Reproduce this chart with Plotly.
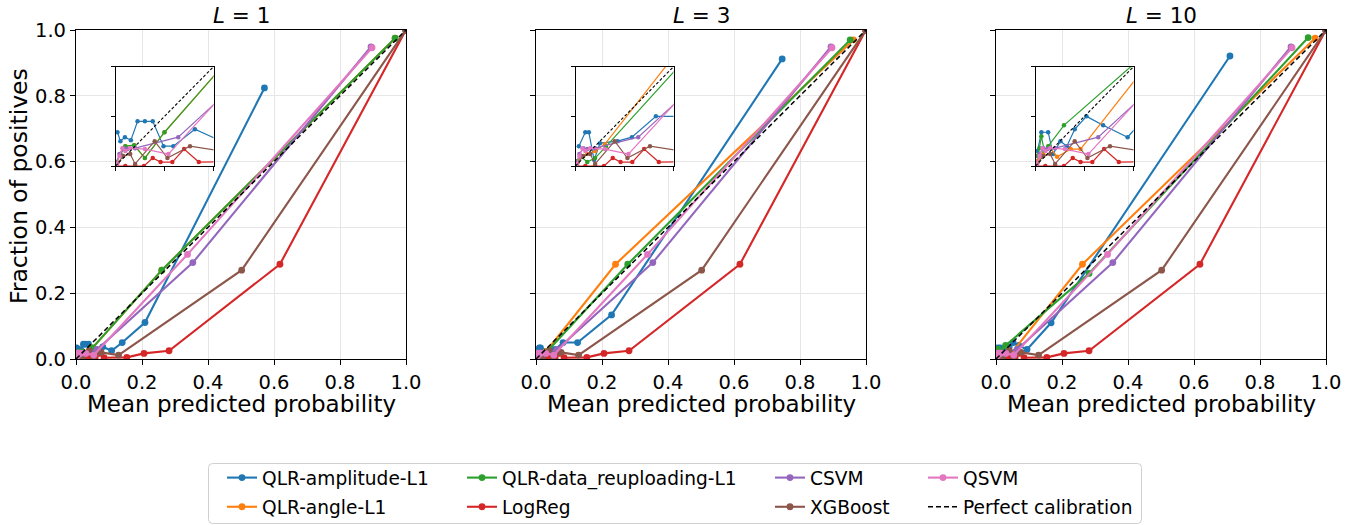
import plotly.graph_objects as go

# ---------------- data ----------------
panel_titles = ["<i>L</i> = 1", "<i>L</i> = 3", "<i>L</i> = 10"]
tick_vals = [0.0, 0.2, 0.4, 0.6, 0.8, 1.0]
tick_text = ["0.0", "0.2", "0.4", "0.6", "0.8", "1.0"]
inset_ticks = [0.0, 0.05, 0.1]

series_names = ["QLR-amplitude-L1", "QLR-angle-L1", "QLR-data_reuploading-L1",
                "LogReg", "CSVM", "XGBoost", "QSVM"]
series_colors = ["#1f77b4", "#ff7f0e", "#2ca02c", "#d62728", "#9467bd", "#8c564b", "#e377c2"]

# classical models (same in every panel)
logreg_x = [0.001, 0.010, 0.020, 0.029, 0.038, 0.046, 0.058, 0.070, 0.085, 0.154, 0.206, 0.282, 0.618, 0.999]
logreg_y = [0.000, 0.000, 0.000, 0.000, 0.008, 0.004, 0.004, 0.017, 0.004, 0.005, 0.017, 0.025, 0.288, 0.999]
csvm_x = [0.001, 0.004, 0.008, 0.012, 0.020, 0.064, 0.354, 0.894]
csvm_y = [0.003, 0.012, 0.018, 0.017, 0.018, 0.029, 0.293, 0.949]
xgb_x = [0.002, 0.008, 0.015, 0.020, 0.040, 0.053, 0.076, 0.129, 0.502, 0.999]
xgb_y = [0.003, 0.010, 0.012, 0.002, 0.025, 0.008, 0.020, 0.012, 0.270, 0.999]
qsvm_x = [0.001, 0.004, 0.007, 0.010, 0.015, 0.030, 0.054, 0.338, 0.897]
qsvm_y = [0.002, 0.010, 0.018, 0.015, 0.018, 0.017, 0.012, 0.318, 0.946]

# quantum models, L = 1
amp_L1_x = [0.002, 0.005, 0.0096, 0.0157, 0.0225, 0.030, 0.038, 0.049, 0.059, 0.081, 0.108, 0.140, 0.209, 0.571]
amp_L1_y = [0.034, 0.025, 0.029, 0.026, 0.045, 0.045, 0.045, 0.020, 0.020, 0.037, 0.025, 0.050, 0.111, 0.824]
ang_L1_x = [0.001, 0.005, 0.010, 0.019, 0.030, 0.050, 0.260, 0.967]
ang_L1_y = [0.004, 0.012, 0.020, 0.021, 0.008, 0.034, 0.270, 0.975]
reup_L1_x = [0.001, 0.005, 0.010, 0.019, 0.030, 0.050, 0.260, 0.967]
reup_L1_y = [0.004, 0.012, 0.020, 0.021, 0.008, 0.034, 0.270, 0.975]

# L = 3
amp_L3_x = [0.0034, 0.010, 0.0136, 0.019, 0.025, 0.043, 0.0575, 0.082, 0.126, 0.229, 0.746]
amp_L3_y = [0.020, 0.034, 0.034, 0.006, 0.023, 0.025, 0.029, 0.050, 0.050, 0.134, 0.912]
ang_L3_x = [0.002, 0.006, 0.012, 0.020, 0.030, 0.241, 0.962]
ang_L3_y = [0.004, 0.010, 0.012, 0.015, 0.022, 0.288, 0.970]
reup_L3_x = [0.002, 0.005, 0.012, 0.020, 0.031, 0.278, 0.952]
reup_L3_y = [0.005, 0.010, 0.004, 0.008, 0.0195, 0.288, 0.970]

# L = 10
amp_L10_x = [0.002, 0.006, 0.0129, 0.018, 0.0254, 0.032, 0.040, 0.052, 0.069, 0.094, 0.167, 0.709]
amp_L10_y = [0.015, 0.034, 0.034, 0.012, 0.025, 0.020, 0.037, 0.050, 0.041, 0.029, 0.110, 0.921]
ang_L10_x = [0.002, 0.008, 0.0136, 0.022, 0.036, 0.046, 0.262, 0.967]
ang_L10_y = [0.005, 0.012, 0.020, 0.0094, 0.017, 0.017, 0.288, 0.975]
reup_L10_x = [0.001, 0.004, 0.006, 0.009, 0.013, 0.029, 0.282, 0.946]
reup_L10_y = [0.010, 0.018, 0.030, 0.015, 0.020, 0.041, 0.260, 0.977]

perfect_x = [0.0, 1.0]
perfect_y = [0.0, 1.0]

panels = [
    [(amp_L1_x, amp_L1_y), (ang_L1_x, ang_L1_y), (reup_L1_x, reup_L1_y),
     (logreg_x, logreg_y), (csvm_x, csvm_y), (xgb_x, xgb_y), (qsvm_x, qsvm_y)],
    [(amp_L3_x, amp_L3_y), (ang_L3_x, ang_L3_y), (reup_L3_x, reup_L3_y),
     (logreg_x, logreg_y), (csvm_x, csvm_y), (xgb_x, xgb_y), (qsvm_x, qsvm_y)],
    [(amp_L10_x, amp_L10_y), (ang_L10_x, ang_L10_y), (reup_L10_x, reup_L10_y),
     (logreg_x, logreg_y), (csvm_x, csvm_y), (xgb_x, xgb_y), (qsvm_x, qsvm_y)],
]

# ---------------- layout geometry ----------------
W, H = 1366, 525
FONT = "DejaVu Sans"
panel_left = [76, 536, 996]
panel_w = 330
ax_top, ax_bot = 30, 359
inset_dx, inset_w = 39.5, 98
inset_top, inset_bot = 66.7, 166
legend_of = ["legend", "legend", "legend2", "legend2", "legend3", "legend3", "legend4"]


def fx(p):
    return p / W


def fy(p):
    return 1 - p / H


fig = go.Figure()

for p in range(3):
    main_ax = p + 1
    ins_ax = p + 4
    for k, (xs, ys) in enumerate(panels[p]):
        fig.add_trace(go.Scatter(
            x=xs, y=ys, mode="lines+markers", name=series_names[k],
            line=dict(color=series_colors[k], width=2.1),
            marker=dict(color=series_colors[k], size=6.8),
            xaxis=f"x{main_ax}", yaxis=f"y{main_ax}",
            legendgroup=f"g{k}",
            showlegend=(p == 0), legend=legend_of[k]))
    fig.add_trace(go.Scatter(
        x=perfect_x, y=perfect_y, mode="lines", name="Perfect calibration",
        line=dict(color="black", width=1.5, dash="5px,3px"),
        xaxis=f"x{main_ax}", yaxis=f"y{main_ax}",
        legendgroup="g7",
        showlegend=(p == 0), legend="legend4"))
    # inset
    for k, (xs, ys) in enumerate(panels[p]):
        fig.add_trace(go.Scatter(
            x=xs, y=ys, mode="lines+markers", name=series_names[k],
            line=dict(color=series_colors[k], width=1.2),
            marker=dict(color=series_colors[k], size=4.5),
            xaxis=f"x{ins_ax}", yaxis=f"y{ins_ax}", showlegend=False))
    fig.add_trace(go.Scatter(
        x=perfect_x, y=perfect_y, mode="lines", name="Perfect calibration",
        line=dict(color="black", width=1.1, dash="3px,2px"),
        xaxis=f"x{ins_ax}", yaxis=f"y{ins_ax}", showlegend=False))

layout = dict(
    width=W, height=H, margin=dict(l=0, r=0, t=0, b=0, autoexpand=False),
    paper_bgcolor="white", plot_bgcolor="white",
    font=dict(family=FONT, size=18, color="black"),
    showlegend=True,
)

axis_common = dict(showline=True, linecolor="black", linewidth=1.2, mirror=True,
                   ticks="outside", ticklen=5, tickwidth=1.2, tickcolor="black",
                   zeroline=False, range=[0, 1], fixedrange=True, automargin=False)

for p in range(3):
    a = p + 1
    x0 = panel_left[p]
    xd = [fx(x0), fx(x0 + panel_w)]
    yd = [fy(ax_bot), fy(ax_top)]
    layout[f"xaxis{a}"] = dict(axis_common, domain=xd, anchor=f"y{a}",
                               tickvals=tick_vals, ticktext=tick_text,
                               showgrid=True, gridcolor="#e6e6e6", gridwidth=1,
                               tickfont=dict(size=19.5, family=FONT))
    layout[f"yaxis{a}"] = dict(axis_common, domain=yd, anchor=f"x{a}",
                               tickvals=tick_vals, ticktext=tick_text,
                               showgrid=True, gridcolor="#e6e6e6", gridwidth=1,
                               showticklabels=(p == 0),
                               tickfont=dict(size=19.5, family=FONT))
    i = p + 4
    ixd = [fx(x0 + inset_dx), fx(x0 + inset_dx + inset_w)]
    iyd = [fy(inset_bot), fy(inset_top)]
    layout[f"xaxis{i}"] = dict(axis_common, domain=ixd, anchor=f"y{i}", range=[0, 0.1],
                               tickvals=inset_ticks, showticklabels=False,
                               showgrid=False, ticklen=4, linewidth=1.0, tickwidth=1.0)
    layout[f"yaxis{i}"] = dict(axis_common, domain=iyd, anchor=f"x{i}", range=[0, 0.1],
                               tickvals=inset_ticks, showticklabels=False,
                               showgrid=False, ticklen=4, linewidth=1.0, tickwidth=1.0)

# legends (4 columns of 2 entries)
legend_x_px = [222, 462, 770, 923]
legend_names = ["legend", "legend2", "legend3", "legend4"]
for j, nm in enumerate(legend_names):
    layout[nm] = dict(x=fx(legend_x_px[j]), y=fy(459), xanchor="left", yanchor="top",
                      orientation="v", bgcolor="rgba(0,0,0,0)", borderwidth=0,
                      font=dict(size=18.6, family=FONT), itemwidth=30,
                      tracegroupgap=2)

fig.update_layout(**layout)

annotations = []
for p in range(3):
    cx = panel_left[p] + panel_w / 2
    annotations.append(dict(text=panel_titles[p], x=fx(cx), y=fy(16), xref="paper", yref="paper",
                            showarrow=False, xanchor="center", yanchor="middle",
                            font=dict(size=21.5, family=FONT)))
    annotations.append(dict(text="Mean predicted probability", x=fx(cx), y=fy(404),
                            xref="paper", yref="paper", showarrow=False,
                            xanchor="center", yanchor="middle",
                            font=dict(size=23, family=FONT)))
annotations.append(dict(text="Fraction of positives", x=fx(19), y=fy(186),
                        xref="paper", yref="paper", showarrow=False, textangle=-90,
                        xanchor="center", yanchor="middle",
                        font=dict(size=23.5, family=FONT)))
fig.update_layout(annotations=annotations)

# rounded legend frame
bx0, bx1, by0, by1, r = 208.5, 1141.5, 463.5, 523.5, 4
frame_path = (f"M {fx(bx0 + r)} {fy(by0)} L {fx(bx1 - r)} {fy(by0)} "
              f"Q {fx(bx1)} {fy(by0)} {fx(bx1)} {fy(by0 + r)} "
              f"L {fx(bx1)} {fy(by1 - r)} Q {fx(bx1)} {fy(by1)} {fx(bx1 - r)} {fy(by1)} "
              f"L {fx(bx0 + r)} {fy(by1)} Q {fx(bx0)} {fy(by1)} {fx(bx0)} {fy(by1 - r)} "
              f"L {fx(bx0)} {fy(by0 + r)} Q {fx(bx0)} {fy(by0)} {fx(bx0 + r)} {fy(by0)} Z")
fig.add_shape(type="path", xref="paper", yref="paper", path=frame_path,
              line=dict(color="#d0d0d0", width=1), fillcolor="rgba(0,0,0,0)")

fig.write_html("out.html")
